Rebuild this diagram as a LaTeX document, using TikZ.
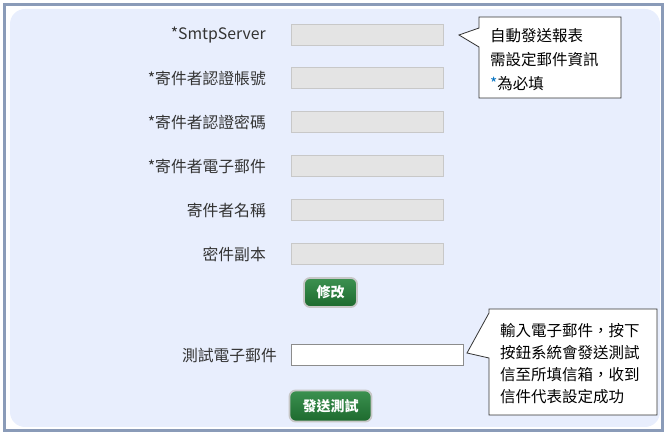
\documentclass[tikz,border=0pt]{standalone}
\usepackage{fontspec}
\setmainfont{Noto Sans CJK TC}
\definecolor{frameblue}{HTML}{8A9BB8}
\definecolor{panelblue}{HTML}{E8EEFD}
\definecolor{boxfill}{HTML}{E4E4E4}
\definecolor{boxline}{HTML}{C8C8C8}
\definecolor{labelgray}{HTML}{333333}
\definecolor{btntop}{HTML}{3C9150}
\definecolor{btnbot}{HTML}{1D6A2E}
\definecolor{starblue}{HTML}{0070C0}
\tikzset{
  lbl/.style={anchor=east, text=labelgray, font=\fontsize{15.8}{18}\selectfont, inner sep=0pt},
  field/.style={draw=boxline, fill=boxfill, line width=1pt, minimum width=152pt, minimum height=21pt, inner sep=0pt, anchor=west},
  btn/.style={draw=black!22, line width=1.8pt, rounded corners=6pt, top color=btntop, bottom color=btnbot,
     text=white, font=\bfseries\fontsize{14}{16}\selectfont, inner sep=0pt},
  cline/.style={font=\fontsize{15.5}{17}\selectfont, inner sep=0pt, anchor=west},
  callout/.style={draw=black!80, fill=white, line width=0.8pt, line join=miter}
}
\begin{document}
\begin{tikzpicture}[x=1pt,y=-1pt]
\useasboundingbox (0,0) rectangle (667,435);
% outer frame and panel
\draw[frameblue, line width=2.5pt] (4.5,4.5) rectangle (662.5,430.5);
\fill[panelblue, rounded corners=15pt] (10,9) rectangle (660,427);
% form rows
\node[lbl] (l1) at (266,35) {*SmtpServer};
\node[lbl] (l2) at (266,78.5) {*寄件者認證帳號};
\node[lbl] (l3) at (266,122.5) {*寄件者認證密碼};
\node[lbl] (l4) at (266,166.5) {*寄件者電子郵件};
\node[lbl] (l5) at (266,210.5) {寄件者名稱};
\node[lbl] (l6) at (266,254.5) {密件副本};
\node[field] (f1) at (291,35) {};
\node[field] (f2) at (291,78.5) {};
\node[field] (f3) at (291,122.5) {};
\node[field] (f4) at (291,166.5) {};
\node[field] (f5) at (291,210.5) {};
\node[field] (f6) at (291,254.5) {};
% modify button
\node[btn, minimum width=53pt, minimum height=29pt] (b1) at (330.5,292.5) {修改};
% test email row
\node[lbl] (l7) at (277,355.5) {測試電子郵件};
\node[draw=black!45, fill=white, line width=1pt, minimum width=172pt, minimum height=21pt, inner sep=0pt, anchor=west] (f7) at (290.5,355.5) {};
\node[btn, minimum width=82pt, minimum height=31pt] (b2) at (330.5,406) {發送測試};
% callout 1
\draw[callout] (479,17) -- (621,17) -- (621,98) -- (479,98) -- (479,47) -- (459,35) -- (479,28) -- cycle;
\node[cline] (c1a) at (490,36) {自動發送報表};
\node[cline] (c1b) at (490,60) {需設定郵件資訊};
\node[cline] (c1c) at (490,84) {{\color{starblue}*}為必填};
% callout 2
\draw[callout] (489,309) -- (657,309) -- (657,415) -- (489,415) -- (489,358) -- (467,353) -- (489,313) -- cycle;
\node[cline] (c2a) at (500,331) {輸入電子郵件，按下};
\node[cline] (c2b) at (500,353) {按鈕系統會發送測試};
\node[cline] (c2c) at (500,375) {信至所填信箱，收到};
\node[cline] (c2d) at (500,397) {信件代表設定成功};
\end{tikzpicture}
\end{document}
